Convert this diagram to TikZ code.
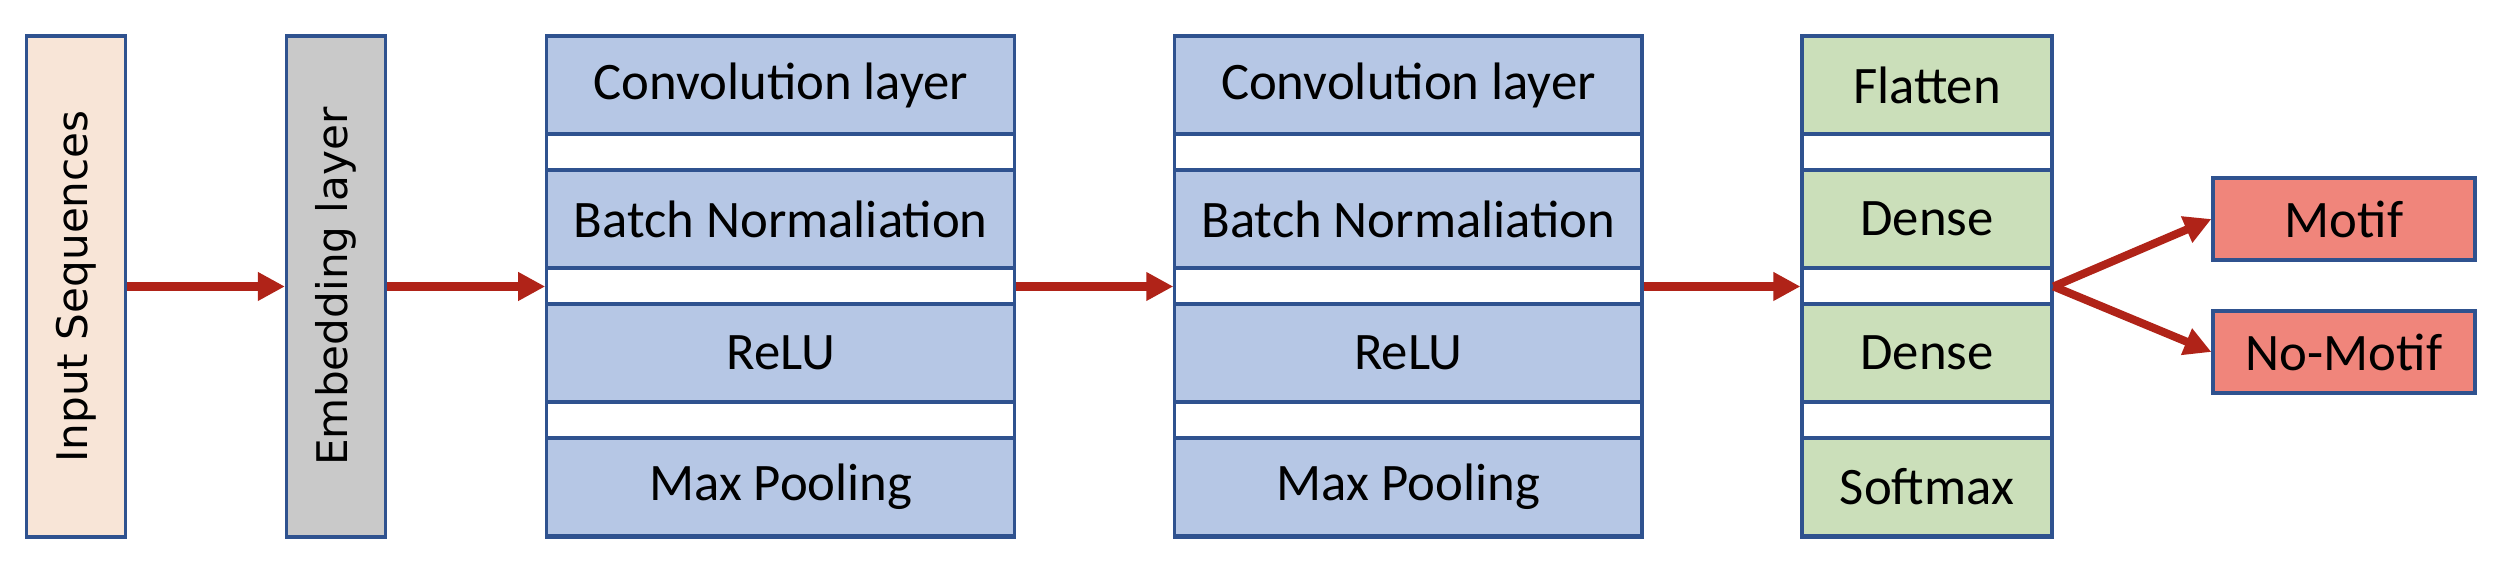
\documentclass[tikz,border=0pt]{standalone}
\usepackage{fontspec}
\setmainfont{Carlito}
\newfontfamily\widesans{DejaVu Sans}
\usetikzlibrary{arrows.meta,positioning}
\definecolor{nnedge}{RGB}{47,82,143}
\definecolor{nnflow}{RGB}{176,35,24}
\definecolor{nninput}{RGB}{248,229,215}
\definecolor{nnembed}{RGB}{201,201,201}
\definecolor{nnconv}{RGB}{182,199,229}
\definecolor{nndense}{RGB}{203,223,186}
\definecolor{nnclass}{RGB}{240,133,123}

\begin{document}
\begin{tikzpicture}[
    column/.style={draw=nnedge, line width=0.9pt, fill=white, minimum height=5.01cm, inner sep=0pt},
    tall/.style={column, minimum width=0.99cm, font=\widesans\fontsize{12}{14}\selectfont},
    layer/.style={draw=nnedge, line width=0.9pt, minimum height=0.98cm, inner sep=0pt, font=\fontsize{15}{18}\selectfont},
    outcome/.style={draw=nnedge, line width=0.9pt, fill=nnclass, minimum width=2.62cm, minimum height=0.82cm, inner sep=0pt, font=\fontsize{15}{18}\selectfont},
    flow/.style={-{Triangle[length=2.7mm, width=2.7mm]}, line width=2.3pt, draw=nnflow}
  ]
  \fill[white] (0,0) rectangle (25,5.64);

  \node[tall, fill=nninput] (inp) at (0.76,2.775) {\rotatebox{90}{Input Sequences}};
  \node[tall, fill=nnembed] (emb) at (3.36,2.775) {\rotatebox{90}{Embedding layer}};

  % first convolution block
  \node[column, minimum width=4.68cm] (cv1) at (7.808,2.775) {};
  \node[layer, fill=nnconv, minimum width=4.68cm] (cv1a) at (7.808,4.79) {Convolution layer};
  \node[layer, fill=nnconv, minimum width=4.68cm] (cv1b) at (7.808,3.45) {Batch Normaliation};
  \node[layer, fill=nnconv, minimum width=4.68cm] (cv1c) at (7.808,2.11) {ReLU};
  \node[layer, fill=nnconv, minimum width=4.68cm] (cv1d) at (7.808,0.77) {Max Pooling};

  % second convolution block
  \node[column, minimum width=4.67cm] (cv2) at (14.084,2.775) {};
  \node[layer, fill=nnconv, minimum width=4.67cm] (cv2a) at (14.084,4.79) {Convolution layer};
  \node[layer, fill=nnconv, minimum width=4.67cm] (cv2b) at (14.084,3.45) {Batch Normaliation};
  \node[layer, fill=nnconv, minimum width=4.67cm] (cv2c) at (14.084,2.11) {ReLU};
  \node[layer, fill=nnconv, minimum width=4.67cm] (cv2d) at (14.084,0.77) {Max Pooling};

  % dense head
  \node[column, minimum width=2.5cm] (dn) at (19.27,2.775) {};
  \node[layer, fill=nndense, minimum width=2.5cm] (dna) at (19.27,4.79) {Flatten};
  \node[layer, fill=nndense, minimum width=2.5cm] (dnb) at (19.27,3.45) {Dense};
  \node[layer, fill=nndense, minimum width=2.5cm] (dnc) at (19.27,2.11) {Dense};
  \node[layer, fill=nndense, minimum width=2.5cm] (dnd) at (19.27,0.77) {Softmax};

  \node[outcome] (mot) at (23.44,3.45) {Motif};
  \node[outcome] (nomot) at (23.44,2.12) {No-Motif};

  \draw[flow] (inp.east) -- (emb.west);
  \draw[flow] (emb.east) -- (cv1.west);
  \draw[flow] (cv1.east) -- (cv2.west);
  \draw[flow] (cv2.east) -- (dn.west);
  \draw[flow] (dn.east) -- (mot.west);
  \draw[flow] (dn.east) -- (nomot.west);
\end{tikzpicture}
\end{document}
